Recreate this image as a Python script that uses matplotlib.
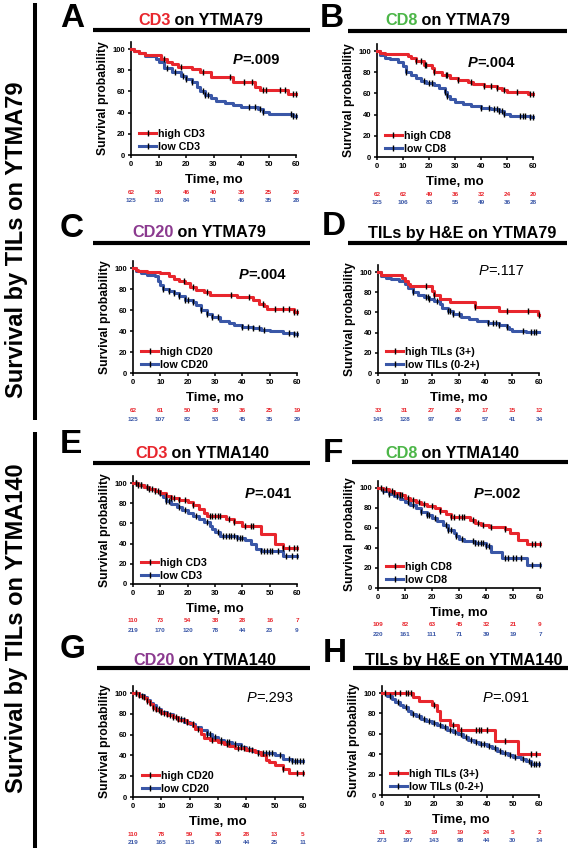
import numpy as np
import matplotlib
matplotlib.use("Agg")
import matplotlib.pyplot as plt
from matplotlib.lines import Line2D

plt.rcParams['font.family'] = ['Liberation Sans', 'DejaVu Sans']

W, H = 572, 852
RED = '#e8262d'
BLUE = '#3a57a7'
GREEN = '#4cb648'
PURPLE = '#8b3a8f'

TIME_TICKS = [0, 10, 20, 30, 40, 50, 60]
SURV_TICKS = [0, 20, 40, 60, 80, 100]

# ---------------- Panel A : CD3 on YTMA79 ----------------
A_high_t = [0, 1, 3, 5, 11, 13, 15, 17, 22, 25, 29, 37, 45, 47, 57, 60]
A_high_s = [100, 98, 96, 94, 91, 88, 86, 83, 81, 78, 74, 69, 64, 61, 58, 58]
A_high_c = [12, 18, 26, 36, 41, 44, 48, 49, 54, 56, 59, 60]
A_low_t = [0, 1, 3, 5, 9, 10, 12, 15, 18, 20, 22, 24, 25, 27, 29, 31, 34, 37, 40, 46, 48, 50, 59, 60]
A_low_s = [100, 98, 96, 93, 91, 88, 82, 78, 75, 72, 69, 64, 60, 57, 54, 51, 49, 47, 45, 43, 41, 39, 37, 37]
A_low_c = [13, 16, 19, 20, 22, 26, 27, 28, 43, 45, 47, 48, 58, 59, 60]
A_risk_high = [62, 58, 46, 40, 35, 25, 20]
A_risk_low = [125, 110, 84, 51, 46, 35, 28]

# ---------------- Panel B : CD8 on YTMA79 ----------------
B_high_t = [0, 1, 3, 12, 13, 15, 18, 21, 22, 25, 28, 31, 35, 37, 41, 46, 48, 50, 58, 60]
B_high_s = [100, 98, 97, 95, 93, 91, 87, 84, 80, 77, 75, 73, 71, 69, 67, 65, 63, 61, 59, 59]
B_high_c = [15, 17, 18.5, 19, 22, 26.5, 27, 31, 36, 41, 44, 46, 49, 54, 59, 60]
B_low_t = [0, 1, 3, 5, 8, 10, 11, 13, 15, 17, 19, 22, 24, 26, 27, 28, 30, 33, 36, 40, 44, 47, 49, 51, 59, 60]
B_low_s = [100, 96, 93, 92, 90, 86, 80, 77, 75, 72, 70, 68, 65, 61, 58, 55, 52, 50, 48, 46, 45, 43, 41, 39, 38, 38]
B_low_c = [11, 18, 20, 21, 26, 27, 40, 43, 45, 46, 47, 48, 49, 55, 56, 57, 59, 60]
B_risk_high = [62, 62, 49, 36, 32, 24, 20]
B_risk_low = [125, 106, 83, 55, 49, 36, 28]

# ---------------- Panel C : CD20 on YTMA79 ----------------
C_high_t = [0, 1, 2, 5, 10, 13, 15, 17, 19, 21, 23, 26, 28, 38, 44, 46, 48, 49, 59, 60]
C_high_s = [100, 98, 97, 96, 95, 92, 90, 88, 86, 82, 79, 77, 74, 72, 70, 66, 64, 61, 58, 58]
C_high_c = [18.5, 22, 27, 36, 42.5, 47.5, 52, 55, 57, 59, 60]
C_low_t = [0, 1, 3, 5, 8, 9, 10, 11, 13, 15, 17, 19, 22, 23, 25, 27, 29, 32, 35, 37, 40, 44, 47, 50, 55, 59, 60]
C_low_s = [100, 97, 95, 93, 92, 88, 84, 80, 78, 76, 73, 70, 68, 65, 60, 56, 53, 50, 48, 46, 44, 43, 41, 40, 38, 37, 37]
C_low_c = [11, 13, 15, 17, 19, 20, 22, 25, 27, 29, 31, 40, 42, 44, 46, 48, 57, 59, 60]
C_risk_high = [62, 61, 50, 38, 36, 25, 19]
C_risk_low = [125, 107, 82, 53, 45, 35, 29]

# ---------------- Panel D : TILs by H&E on YTMA79 ----------------
D_high_t = [0, 1, 9, 10, 11, 12, 20, 21, 23, 27, 36, 45, 59.5, 60]
D_high_s = [100, 97, 94, 91, 88, 86, 81, 77, 73, 70, 65, 61, 57, 57]
D_high_c = [18, 21, 36, 48, 56, 60]
D_low_t = [0, 1, 3, 5, 8, 10, 11, 13, 15, 17, 19, 21, 23, 24, 26, 28, 31, 34, 37, 41, 45, 48, 49, 50, 55, 60]
D_low_s = [100, 96, 94, 93, 91, 88, 84, 80, 77, 75, 73, 71, 68, 64, 61, 58, 55, 53, 51, 50, 48, 46, 44, 42, 41, 41]
D_low_c = [13, 18, 18.5, 19, 22, 26, 27, 28, 30, 41, 43, 44, 45, 48, 54, 57, 58, 59]
D_risk_high = [33, 31, 27, 20, 17, 15, 12]
D_risk_low = [145, 128, 97, 65, 57, 41, 34]

# ---------------- Panel E : CD3 on YTMA140 ----------------
E_high_t = [0, 2, 4, 6, 8, 10, 12, 14, 17, 20, 22, 24, 26, 27, 34, 37, 40, 47, 52, 55, 60]
E_high_s = [100, 98, 96, 94, 92, 90, 87, 85, 83, 81, 78, 74, 70, 67, 64, 61, 57, 50, 40, 36, 36]
E_high_c = [1, 2, 3, 5, 6, 8, 10, 12, 14, 15, 17, 19, 22, 28, 29, 30, 31, 32, 35, 37, 41, 43, 44, 55, 57, 59, 60]
E_low_t = [0, 2, 4, 6, 8, 10, 11, 12, 14, 16, 18, 20, 22, 24, 26, 28, 29, 30, 32, 38, 41, 43, 45, 47, 55, 60]
E_low_s = [100, 98, 96, 94, 92, 89, 86, 82, 79, 76, 73, 70, 67, 64, 61, 57, 54, 51, 48, 46, 44, 40, 35, 33, 28, 28]
E_low_c = [1, 3, 5, 7, 9, 12, 13, 17, 19, 23, 27, 31, 33, 34, 35, 36, 37, 38, 39, 40, 47, 48, 49, 50, 51, 53, 56, 58, 60]
E_risk_high = [110, 73, 54, 38, 28, 16, 7]
E_risk_low = [219, 170, 120, 78, 44, 23, 9]

# ---------------- Panel F : CD8 on YTMA140 ----------------
F_high_t = [0, 2, 4, 6, 8, 10, 12, 14, 16, 18, 21, 23, 25, 27, 34, 36, 38, 41, 47, 49, 52, 55, 60]
F_high_s = [100, 99, 97, 95, 93, 90, 88, 86, 84, 82, 80, 77, 74, 71, 68, 65, 63, 61, 59, 55, 48, 44, 44]
F_high_c = [1, 3, 5, 6, 8, 9, 11, 13, 15, 17, 20, 23, 27, 28, 30, 31, 32, 35, 37, 39, 42, 47, 57, 58, 60]
F_low_t = [0, 2, 4, 6, 8, 10, 12, 14, 16, 18, 20, 22, 24, 26, 28, 29, 30, 32, 36, 40, 42, 46, 55, 60]
F_low_s = [100, 97, 94, 92, 89, 86, 83, 80, 76, 73, 70, 67, 63, 58, 55, 52, 49, 47, 45, 42, 36, 30, 23, 23]
F_low_c = [2, 4, 7, 11, 13, 16, 18, 19, 21, 25, 26, 27, 29, 31, 35, 36, 37, 38, 39, 40, 41, 47, 48, 50, 51, 53, 57, 60]
F_risk_high = [109, 82, 63, 45, 32, 21, 9]
F_risk_low = [220, 161, 111, 71, 39, 19, 7]

# ---------------- Panel G : CD20 on YTMA140 ----------------
G_high_t = [0, 2, 4, 5, 6, 7, 8, 10, 12, 14, 16, 19, 21, 22, 24, 25, 27, 30, 32, 34, 36, 40, 43, 45, 47, 48, 50, 53, 55, 60]
G_high_s = [100, 97, 95, 92, 89, 86, 84, 81, 79, 77, 74, 71, 68, 65, 61, 57, 55, 53, 51, 49, 47, 45, 43, 40, 36, 34, 31, 27, 23, 23]
G_high_c = [1, 3, 5, 7, 9, 11, 13, 15, 18, 23, 28, 31, 33, 37, 39, 42, 53, 58, 60]
G_low_t = [0, 2, 4, 5, 6, 7, 8, 10, 12, 14, 16, 18, 20, 22, 24, 26, 28, 30, 32, 35, 38, 40, 42, 44, 50, 53, 56, 60]
G_low_s = [100, 98, 96, 93, 90, 88, 85, 82, 80, 77, 75, 72, 70, 67, 64, 61, 58, 55, 53, 51, 48, 46, 44, 42, 40, 37, 35, 35]
G_low_c = [1, 2, 4, 6, 8, 9, 10, 12, 14, 16, 17, 19, 21, 26, 27, 29, 31, 33, 34, 36, 38, 41, 44, 46, 47, 48, 49, 52, 55, 56, 57, 58, 59, 60]
G_risk_high = [110, 78, 59, 36, 28, 13, 5]
G_risk_low = [219, 165, 115, 80, 44, 25, 11]

# ---------------- Panel H : TILs by H&E on YTMA140 ----------------
H_high_t = [0, 12, 14, 19, 21, 22, 26, 29, 43, 52, 60]
H_high_s = [100, 96, 92, 88, 82, 74, 69, 64, 53, 40, 40]
H_high_c = [5, 7, 9, 10, 11, 20, 27, 30, 36, 37, 38, 40, 47, 57, 59]
H_low_t = [0, 2, 4, 5, 7, 8, 10, 11, 13, 15, 17, 19, 21, 23, 25, 27, 29, 31, 33, 35, 37, 40, 42, 44, 46, 48, 50, 53, 55, 57, 60]
H_low_s = [100, 97, 94, 91, 88, 86, 82, 79, 77, 75, 73, 71, 69, 67, 64, 62, 60, 57, 54, 52, 50, 48, 46, 43, 41, 39, 37, 35, 33, 30, 30]
H_low_c = [1, 3, 6, 9, 12, 14, 16, 18, 20, 22, 24, 26, 28, 30, 32, 34, 36, 38, 39, 41, 43, 45, 47, 49, 51, 54, 56, 57, 58, 59, 60]
H_risk_high = [31, 26, 19, 19, 24, 5, 2]
H_risk_low = [273, 197, 143, 98, 44, 30, 14]

# legends / p-values / titles
LEG_CD3 = ['high CD3', 'low CD3']
LEG_CD8 = ['high CD8', 'low CD8']
LEG_CD20 = ['high CD20', 'low CD20']
LEG_TIL = ['high TILs (3+)', 'low TILs (0-2+)']

fig = plt.figure(figsize=(W / 100, H / 100), dpi=100)

# overlay axes in pixel coordinates for decorations
ov = fig.add_axes([0, 0, 1, 1])
ov.set_xlim(0, W)
ov.set_ylim(H, 0)
ov.axis('off')

YTOP = 107


def step_val(t, s, x):
    t = np.asarray(t, float)
    s = np.asarray(s, float)
    idx = np.searchsorted(t, np.asarray(x, float), side='right') - 1
    return s[np.clip(idx, 0, len(s) - 1)]


def km_panel(box, hi, lo, labels, pval, pbold, ppos, risk_hi, risk_lo):
    x0, x1, y0, y100 = box
    ytop = y0 - (y0 - y100) * YTOP / 100.0
    ax = fig.add_axes([x0 / W, 1 - y0 / H, (x1 - x0) / W, (y0 - ytop) / H])
    for (t, s, c), col in ((lo, BLUE), (hi, RED)):
        ax.step(t, s, where='post', color=col, lw=2.2, zorder=3, clip_on=False)
        ax.plot(c, step_val(t, s, c), ls='none', marker='|', ms=5, mew=1.0,
                color='k', zorder=4, clip_on=False)
    ax.set_xlim(0, 60)
    ax.set_ylim(0, YTOP)
    ax.set_xticks(TIME_TICKS)
    ax.set_yticks(SURV_TICKS)
    for sp in ('top', 'right'):
        ax.spines[sp].set_visible(False)
    for sp in ('left', 'bottom'):
        ax.spines[sp].set_linewidth(1.2)
    ax.tick_params(direction='out', length=2.5, width=1.1, labelsize=5.5, pad=1.5)
    for lab in ax.get_xticklabels() + ax.get_yticklabels():
        lab.set_fontweight('bold')
    ax.set_ylabel('Survival probability', fontsize=8.7, fontweight='bold', labelpad=3)
    ax.annotate('Time, mo', xy=(0.5, 0), xycoords='axes fraction',
                xytext=(0, -25 * 0.72), textcoords='offset points',
                ha='center', va='center', fontsize=9.5, fontweight='bold')
    for x, r, b in zip(TIME_TICKS, risk_hi, risk_lo):
        ax.annotate(str(r), xy=(x, 0), xycoords=('data', 'axes fraction'),
                    xytext=(0, -37 * 0.72), textcoords='offset points',
                    ha='center', va='center', fontsize=4.6, color=RED, fontweight='bold')
        ax.annotate(str(b), xy=(x, 0), xycoords=('data', 'axes fraction'),
                    xytext=(0, -46 * 0.72), textcoords='offset points',
                    ha='center', va='center', fontsize=4.6, color=BLUE, fontweight='bold')
    handles = [Line2D([], [], color=RED, lw=2.2, marker='|', ms=5, mew=1.0, mec='k'),
               Line2D([], [], color=BLUE, lw=2.2, marker='|', ms=5, mew=1.0, mec='k')]
    ax.legend(handles, labels, loc='lower left', bbox_to_anchor=(0.05, 0.03),
              frameon=False, handlelength=1.6, handletextpad=0.2, labelspacing=0.25,
              borderpad=0, borderaxespad=0, prop={'weight': 'bold', 'size': 7.7})
    w = 'bold' if pbold else 'normal'
    pt = ax.text(ppos[0], ppos[1], 'P', style='italic', fontweight=w, fontsize=10.5,
                 ha='left', va='center')
    ax.annotate('=' + pval, xy=(1, 0), xycoords=pt, ha='left', va='bottom',
                fontweight=w, fontsize=10.5)
    return ax


def header(letter, lpos, tparts, tleft, tbase, bar):
    ov.text(lpos[0], lpos[1], letter, fontsize=24, fontweight='bold', ha='left', va='baseline')
    prev = None
    for txt, col in tparts:
        if prev is None:
            prev = ov.text(tleft, tbase, txt, color=col, fontsize=11.7, fontweight='bold',
                           ha='left', va='baseline')
        else:
            prev = ov.annotate(txt, xy=(1, 0), xycoords=prev, color=col, fontsize=11.7,
                               fontweight='bold', ha='left', va='bottom')
    ov.plot([bar[0], bar[1]], [bar[2], bar[2]], color='k', lw=3.0, solid_capstyle='butt')


# left group labels and bars
ov.plot([35, 35], [3, 420], color='k', lw=2.9, solid_capstyle='butt')
ov.plot([35, 35], [432, 848], color='k', lw=2.9, solid_capstyle='butt')
ov.text(17, 240, 'Survival by TILs on YTMA79', rotation=90, ha='center', va='center',
        fontsize=17, fontweight='bold')
ov.text(17, 628, 'Survival by TILs on YTMA140', rotation=90, ha='center', va='center',
        fontsize=17, fontweight='bold')

# headers
header('A', (60, 27), [('CD3', RED), (' on YTMA79', 'k')], 138, 25, (93, 310, 30))
header('B', (320, 27), [('CD8', GREEN), (' on YTMA79', 'k')], 385, 25, (348, 567, 31))
header('C', (60, 237), [('CD20', PURPLE), (' on YTMA79', 'k')], 132, 237, (93, 310, 243))
header('D', (322, 235), [('TILs by H&E on YTMA79', 'k')], 368, 238, (348, 567, 243))
header('E', (60, 453), [('CD3', RED), (' on YTMA140', 'k')], 135, 458, (93, 310, 463))
header('F', (323, 462), [('CD8', GREEN), (' on YTMA140', 'k')], 385, 458, (352, 568, 462))
header('G', (60, 658), [('CD20', PURPLE), (' on YTMA140', 'k')], 133, 665, (97, 310, 668))
header('H', (323, 662), [('TILs by H&E on YTMA140', 'k')], 365, 665, (353, 568, 668))

# panels
km_panel((131, 296, 155, 49), (A_high_t, A_high_s, A_high_c), (A_low_t, A_low_s, A_low_c),
         LEG_CD3, '.009', True, (37, 89.6), A_risk_high, A_risk_low)
km_panel((377, 533, 157, 51), (B_high_t, B_high_s, B_high_c), (B_low_t, B_low_s, B_low_c),
         LEG_CD8, '.004', True, (35, 89), B_risk_high, B_risk_low)
km_panel((133, 297, 373, 268), (C_high_t, C_high_s, C_high_c), (C_low_t, C_low_s, C_low_c),
         LEG_CD20, '.004', True, (38.7, 93), C_risk_high, C_risk_low)
km_panel((378, 539, 373, 272), (D_high_t, D_high_s, D_high_c), (D_low_t, D_low_s, D_low_c),
         LEG_TIL, '.117', False, (37.5, 101), D_risk_high, D_risk_low)
km_panel((133, 297, 584, 483), (E_high_t, E_high_s, E_high_c), (E_low_t, E_low_s, E_low_c),
         LEG_CD3, '.041', True, (41, 89), E_risk_high, E_risk_low)
km_panel((378, 540, 588, 488), (F_high_t, F_high_s, F_high_c), (F_low_t, F_low_s, F_low_c),
         LEG_CD8, '.002', True, (35.5, 94), F_risk_high, F_risk_low)
km_panel((133, 303, 797, 693), (G_high_t, G_high_s, G_high_c), (G_low_t, G_low_s, G_low_c),
         LEG_CD20, '.293', False, (40, 95), G_risk_high, G_risk_low)
km_panel((382, 539, 795, 693), (H_high_t, H_high_s, H_high_c), (H_low_t, H_low_s, H_low_c),
         LEG_TIL, '.091', False, (38.5, 95.5), H_risk_high, H_risk_low)

fig.savefig('out.png', dpi=100)
